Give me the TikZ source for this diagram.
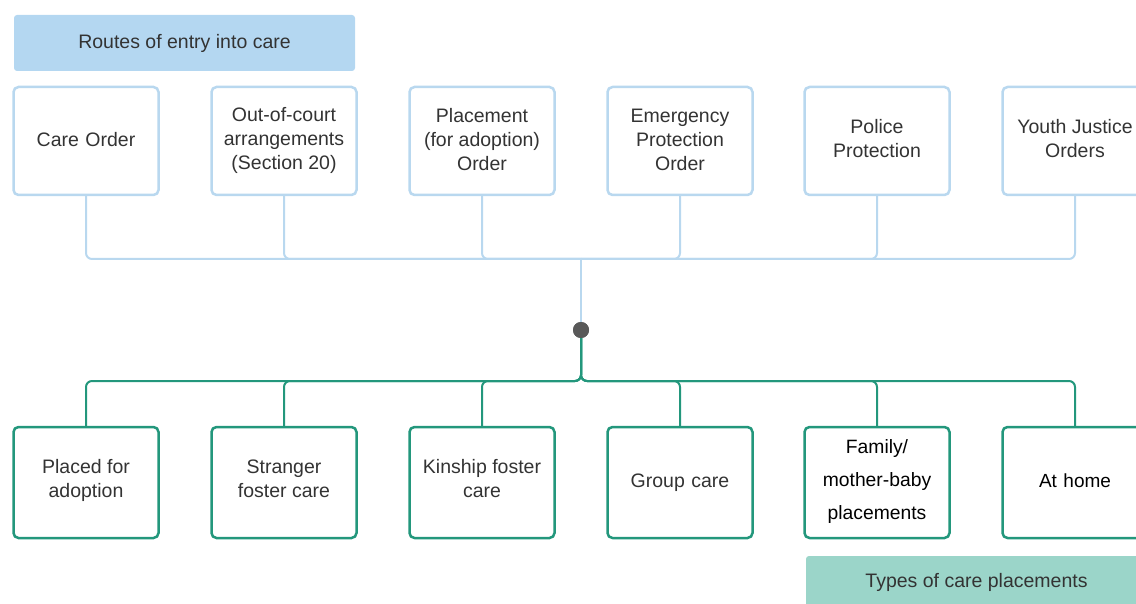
\documentclass[tikz,border=0pt]{standalone}
\usepackage{fontspec}
\setmainfont{Liberation Sans}
\definecolor{topblue}{HTML}{B4D7F1}
\definecolor{topline}{HTML}{B9D8EF}
\definecolor{green}{HTML}{23977C}
\definecolor{footfill}{HTML}{9BD5C9}
\definecolor{txt}{HTML}{333333}
\definecolor{dotgray}{HTML}{595959}
\tikzset{
  lbl/.style={font=\fontsize{19.5}{24}\selectfont, text=txt, align=center},
  banner/.style={lbl, fill=topblue, rounded corners=3pt, minimum width=341pt, minimum height=56pt, inner sep=0pt},
  footbanner/.style={lbl, fill=footfill, rounded corners=3pt, minimum width=341pt, minimum height=56pt, inner sep=0pt},
  topbox/.style={lbl, draw=topline, line width=2.5pt, rounded corners=5pt, fill=white, minimum width=145pt, minimum height=108pt, inner sep=0pt, text width=140pt},
  botbox/.style={lbl, draw=green, line width=2.5pt, rounded corners=5pt, fill=white, minimum width=145pt, minimum height=111pt, inner sep=0pt, text width=140pt},
  topconn/.style={draw=topline, line width=2pt, rounded corners=6pt},
  botconn/.style={draw=green, line width=2pt, rounded corners=6pt},
}
\begin{document}
\begin{tikzpicture}[x=1pt,y=-1pt]
\useasboundingbox (0,0) rectangle (1136,604);
\clip (0,0) rectangle (1136,604);
\node[banner] (head) at (184.5,43) {\raisebox{2pt}{Routes of entry into care}};
\node[footbanner] (foot) at (976.5,584) {\raisebox{7pt}{Types of care placements}};
% top boxes
\node[topbox] (t1) at (86,141) {\raisebox{3pt}{Care Order}};
\node[topbox] (t2) at (284,141) {};
\node[topbox] (t3) at (482,141) {};
\node[topbox] (t4) at (680,141) {};
\node[topbox] (t5) at (877,141) {};
\node[topbox] (t6) at (1075,141) {};
\node[lbl, yshift=1pt] (l2) at (t2) {Out-of-court\\arrangements\\(Section 20)};
\node[lbl, yshift=1pt] (l3) at (t3) {Placement\\(for adoption)\\Order};
\node[lbl, yshift=1pt] (l4) at (t4) {Emergency\\Protection\\Order};
\node[lbl, yshift=2pt] (l5) at (t5) {Police\\Protection};
\node[lbl, yshift=2pt] (l6) at (t6) {Youth Justice\\Orders};
% bottom boxes
\node[botbox] (b1) at (86,482.5) {};
\node[botbox] (b2) at (284,482.5) {};
\node[botbox] (b3) at (482,482.5) {};
\node[botbox] (b4) at (680,482.5) {\raisebox{1pt}{Group care}};
\node[botbox] (b5) at (877,482.5) {};
\node[botbox, text=black] (b6) at (1075,482.5) {\raisebox{3pt}{\fontsize{19}{24}\selectfont At home}};
\node[lbl, yshift=2pt] (m1) at (b1) {Placed for\\adoption};
\node[lbl, yshift=4pt] (m2) at (b2) {Stranger\\foster care};
\node[lbl, yshift=4pt] (m3) at (b3) {Kinship foster\\care};
\node[lbl, text=black, font=\fontsize{19.3}{33}\selectfont, yshift=1pt] (m5) at (b5) {Family/\\mother-baby\\placements};
% junctions and dot
\coordinate (jt) at (581,259);
\coordinate (jb) at (581,381);
\node[circle, fill=dotgray, minimum size=16pt, inner sep=0pt] (dot) at (581,330) {};
% top connectors
\foreach \b in {t1,t2,t3,t4,t5,t6}{
  \draw[topconn] (\b.south) |- (jt);
}
\draw[topconn] (jt) -- (dot.north);
% bottom connectors
\foreach \b in {b1,b2,b3,b4,b5,b6}{
  \draw[botconn] (dot.south) -- (jb) -| (\b.north);
}
\node[circle, fill=dotgray, minimum size=16pt, inner sep=0pt] at (dot) {};
\end{tikzpicture}
\end{document}
